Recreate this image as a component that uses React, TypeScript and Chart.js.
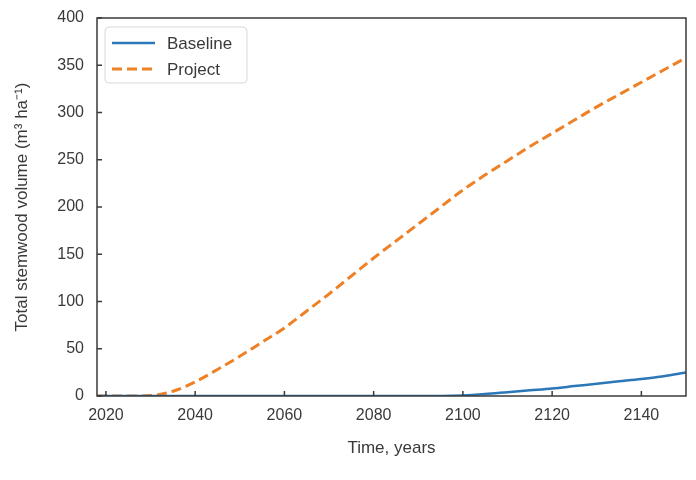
import React, { useEffect, useRef } from "react";
import { Chart, registerables } from "chart.js";

Chart.register(...registerables);

const years = [2018, 2025, 2030, 2035, 2040, 2045, 2050, 2055, 2060, 2065, 2070, 2075, 2080, 2085, 2090, 2095, 2100, 2105, 2110, 2115, 2120, 2125, 2130, 2135, 2140, 2145, 2150];
const baseline = [0, 0, 0, 0, 0, 0, 0, 0, 0, 0, 0, 0, 0, 0, 0, 0, 0.5, 2, 4, 6, 8, 10.5, 13, 15.5, 18, 21, 25];
const project = [0, 0, 0.5, 5, 15, 28, 42, 57, 72, 90, 108, 127, 146, 164, 182, 200, 218, 234, 249, 264, 278, 292, 306, 319, 332, 345, 358];
const xTicks = [2020, 2040, 2060, 2080, 2100, 2120, 2140];
const yTicks = [0, 50, 100, 150, 200, 250, 300, 350, 400];
const seriesNames = ["Baseline", "Project"];

const FONT = "Arial, 'Liberation Sans', sans-serif";
const TEXT = "#3a3a3a";
const FRAME = "#3a3a3a";

const framePlugin = {
  id: "frameTicks",
  afterDraw(chart: any) {
    const ctx = chart.ctx;
    const { left, right, top, bottom } = chart.chartArea;
    ctx.save();
    ctx.strokeStyle = FRAME;
    ctx.lineWidth = 1.5;
    ctx.strokeRect(left, top, right - left, bottom - top);
    const xs = chart.scales.x;
    const ys = chart.scales.y;
    ctx.beginPath();
    xs.ticks.forEach((t: any) => {
      const px = xs.getPixelForValue(t.value);
      ctx.moveTo(px, bottom);
      ctx.lineTo(px, bottom - 5);
    });
    ys.ticks.forEach((t: any) => {
      const py = ys.getPixelForValue(t.value);
      ctx.moveTo(left, py);
      ctx.lineTo(left + 5, py);
    });
    ctx.stroke();

    // legend
    const bx = left + 8, by = top + 9, bw = 142, bh = 56;
    ctx.fillStyle = "rgba(255,255,255,0.85)";
    ctx.strokeStyle = "#d8d8d8";
    ctx.lineWidth = 1;
    ctx.beginPath();
    (ctx as any).roundRect(bx, by, bw, bh, 4);
    ctx.fill();
    ctx.stroke();
    chart.data.datasets.forEach((ds: any, i: number) => {
      const ly = by + 16 + i * 26;
      ctx.strokeStyle = ds.borderColor;
      ctx.lineWidth = ds.borderWidth;
      ctx.setLineDash(ds.borderDash || []);
      ctx.beginPath();
      ctx.moveTo(bx + 7, ly);
      ctx.lineTo(bx + 50, ly);
      ctx.stroke();
      ctx.setLineDash([]);
      ctx.fillStyle = TEXT;
      ctx.font = `17px ${FONT}`;
      ctx.textBaseline = "middle";
      ctx.textAlign = "left";
      ctx.fillText(ds.label, bx + 62, ly + 1);
    });
    ctx.restore();
  },
};

const bgPlugin = {
  id: "bg",
  beforeDraw(chart: any) {
    const ctx = chart.ctx;
    ctx.save();
    ctx.fillStyle = "#ffffff";
    ctx.fillRect(0, 0, chart.width, chart.height);
    ctx.restore();
  },
};

export default function App() {
  const ref = useRef<HTMLCanvasElement | null>(null);
  useEffect(() => {
    if (!ref.current) return;
    const chart = new Chart(ref.current, {
      type: "line",
      data: {
        datasets: [
          {
            label: seriesNames[0],
            data: years.map((y, i) => ({ x: y, y: baseline[i] })),
            borderColor: "#2a78b8",
            borderWidth: 2.5,
            pointRadius: 0,
            tension: 0.4,
            cubicInterpolationMode: "monotone",
            fill: false,
          },
          {
            label: seriesNames[1],
            data: years.map((y, i) => ({ x: y, y: project[i] })),
            borderColor: "#ee8026",
            borderWidth: 3,
            borderDash: [10, 5],
            pointRadius: 0,
            tension: 0.4,
            cubicInterpolationMode: "monotone",
            fill: false,
          },
        ],
      },
      options: {
        responsive: false,
        animation: false,
        layout: { padding: { top: 18, right: 10, left: 0, bottom: 0 } },
        plugins: { legend: { display: false }, tooltip: { enabled: false } },
        scales: {
          x: {
            type: "linear",
            min: 2018,
            max: 2150,
            afterBuildTicks: (s: any) => {
              s.ticks = xTicks.map((v) => ({ value: v }));
            },
            afterFit: (s: any) => {
              s.height = 84;
              s.paddingLeft = 0;
              s.paddingRight = 0;
            },
            grid: { display: false, drawTicks: false },
            border: { display: false },
            ticks: {
              padding: 10,
              color: TEXT,
              font: { size: 16, family: FONT },
              maxRotation: 0,
              callback: (v: any) => String(v),
            },
            title: {
              display: true,
              text: "Time, years",
              color: TEXT,
              font: { size: 17, family: FONT },
              padding: { top: 0, bottom: 21 },
            },
          },
          y: {
            type: "linear",
            min: 0,
            max: 400,
            afterBuildTicks: (s: any) => {
              s.ticks = yTicks.map((v) => ({ value: v }));
            },
            afterFit: (s: any) => {
              s.width = 97;
              s.paddingTop = 0;
              s.paddingBottom = 0;
            },
            grid: { display: false, drawTicks: false },
            border: { display: false },
            ticks: {
              padding: 13,
              color: TEXT,
              font: { size: 16, family: FONT },
              callback: (v: any) => String(v),
            },
            title: {
              display: true,
              text: "Total stemwood volume (m³ ha⁻¹)",
              color: TEXT,
              font: { size: 17, family: FONT },
              padding: { top: 12, bottom: 0 },
            },
          },
        },
      },
      plugins: [bgPlugin, framePlugin],
    } as any);
    return () => chart.destroy();
  }, []);
  return (
    <div style={{ position: "absolute", left: 0, top: 0, width: 696, height: 480 }}>
      <canvas ref={ref} width={696} height={480} />
    </div>
  );
}
